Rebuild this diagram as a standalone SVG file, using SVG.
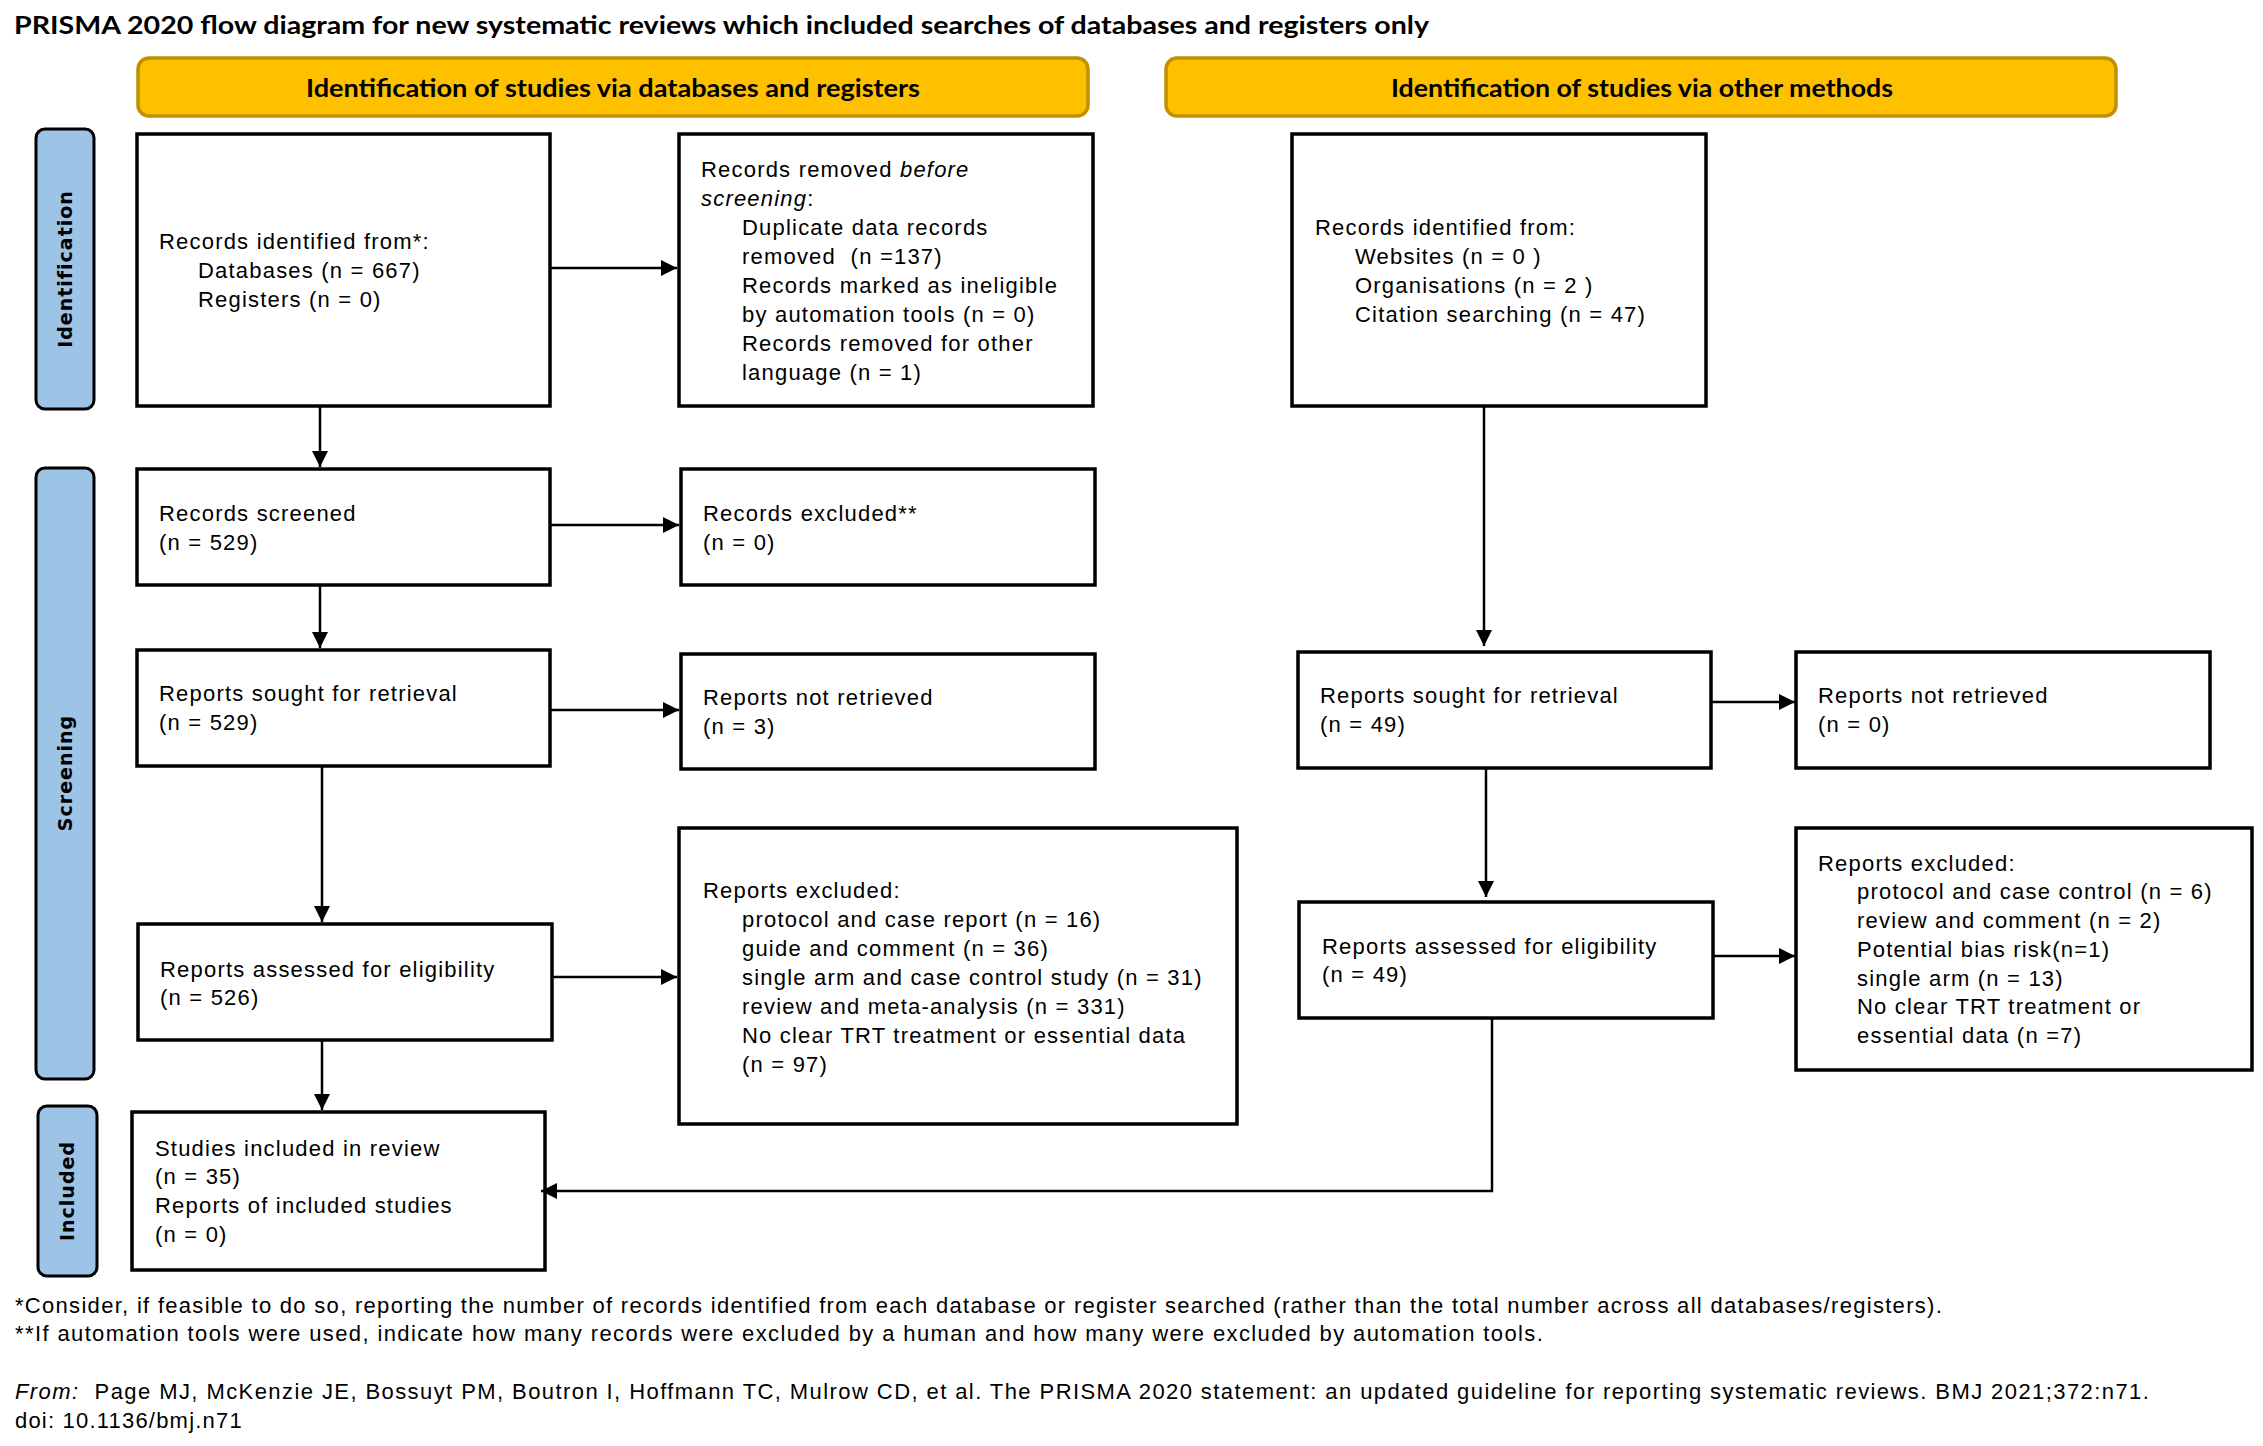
<svg xmlns="http://www.w3.org/2000/svg" width="2263" height="1446" viewBox="0 0 2263 1446">
<style>
.t{font-family:"Liberation Sans",Arial,sans-serif;font-size:22px;letter-spacing:1.2px;fill:#000}
.box{fill:#fff;stroke:#000;stroke-width:3.5}
.hdr{fill:#FFC000;stroke:#BF9000;stroke-width:3.5}
.hdrt{font-family:Lato,"Liberation Sans",sans-serif;font-weight:bold;font-size:24px;fill:#000;text-anchor:middle}
.side{fill:#9DC3E6;stroke:#000;stroke-width:3}
.sidet{font-family:"DejaVu Sans",Verdana,sans-serif;font-weight:bold;font-size:19px;letter-spacing:1px;fill:#000;text-anchor:middle}
.ttl{font-family:Lato,"Liberation Sans",sans-serif;font-weight:bold;font-size:24px;fill:#000}
.c{fill:none;stroke:#000;stroke-width:2.5}
.i{font-style:italic}
</style>
<defs>
<marker id="ah" markerUnits="userSpaceOnUse" markerWidth="18" markerHeight="16" refX="16" refY="8" orient="auto">
<path d="M0,0 L16,8 L0,16 z" fill="#000"/>
</marker>
</defs>
<rect width="2263" height="1446" fill="#fff"/>
<text class="ttl" x="14" y="34" textLength="1415" lengthAdjust="spacingAndGlyphs">PRISMA 2020 flow diagram for new systematic reviews which included searches of databases and registers only</text>

<g id="hdr-db">
<rect class="hdr" x="138" y="58" width="950" height="58" rx="11"/>
<text class="hdrt" x="613" y="97" textLength="614" lengthAdjust="spacingAndGlyphs">Identification of studies via databases and registers</text>
</g>
<g id="hdr-other">
<rect class="hdr" x="1166" y="58" width="950" height="58" rx="11"/>
<text class="hdrt" x="1642" y="97" textLength="502" lengthAdjust="spacingAndGlyphs">Identification of studies via other methods</text>
</g>

<g id="side-identification">
<rect class="side" x="36" y="129" width="58" height="280" rx="9"/>
<text class="sidet" transform="translate(72,269) rotate(-90)">Identification</text>
</g>
<g id="side-screening">
<rect class="side" x="36" y="468" width="58" height="611" rx="9"/>
<text class="sidet" transform="translate(72,773) rotate(-90)">Screening</text>
</g>
<g id="side-included">
<rect class="side" x="38" y="1106" width="59" height="170" rx="9"/>
<text class="sidet" transform="translate(74,1191) rotate(-90)">Included</text>
</g>

<g id="n-records-identified">
<rect class="box" x="137" y="134" width="413" height="272"/>
<text class="t" x="159" y="249">Records identified from*:</text>
<text class="t" x="198" y="278">Databases (n = 667)</text>
<text class="t" x="198" y="307">Registers (n = 0)</text>
</g>
<g id="n-records-removed">
<rect class="box" x="679" y="134" width="414" height="272"/>
<text class="t" x="701" y="177">Records removed <tspan class="i">before</tspan></text>
<text class="t" x="701" y="206"><tspan class="i">screening</tspan>:</text>
<text class="t" x="742" y="235">Duplicate data records</text>
<text class="t" x="742" y="264">removed&#160; (n =137)</text>
<text class="t" x="742" y="293">Records marked as ineligible</text>
<text class="t" x="742" y="322">by automation tools (n = 0)</text>
<text class="t" x="742" y="351">Records removed for other</text>
<text class="t" x="742" y="380">language (n = 1)</text>
</g>
<g id="n-records-identified-other">
<rect class="box" x="1292" y="134" width="414" height="272"/>
<text class="t" x="1315" y="235">Records identified from:</text>
<text class="t" x="1355" y="264">Websites (n = 0 )</text>
<text class="t" x="1355" y="293">Organisations (n = 2 )</text>
<text class="t" x="1355" y="322">Citation searching (n = 47)</text>
</g>
<g id="n-records-screened">
<rect class="box" x="137" y="469" width="413" height="116"/>
<text class="t" x="159" y="521">Records screened</text>
<text class="t" x="159" y="550">(n = 529)</text>
</g>
<g id="n-records-excluded">
<rect class="box" x="681" y="469" width="414" height="116"/>
<text class="t" x="703" y="521">Records excluded**</text>
<text class="t" x="703" y="550">(n = 0)</text>
</g>
<g id="n-reports-sought">
<rect class="box" x="137" y="650" width="413" height="116"/>
<text class="t" x="159" y="701">Reports sought for retrieval</text>
<text class="t" x="159" y="730">(n = 529)</text>
</g>
<g id="n-reports-not-retrieved">
<rect class="box" x="681" y="654" width="414" height="115"/>
<text class="t" x="703" y="705">Reports not retrieved</text>
<text class="t" x="703" y="734">(n = 3)</text>
</g>
<g id="n-reports-sought-other">
<rect class="box" x="1298" y="652" width="413" height="116"/>
<text class="t" x="1320" y="703">Reports sought for retrieval</text>
<text class="t" x="1320" y="732">(n = 49)</text>
</g>
<g id="n-reports-not-retrieved-other">
<rect class="box" x="1796" y="652" width="414" height="116"/>
<text class="t" x="1818" y="703">Reports not retrieved</text>
<text class="t" x="1818" y="732">(n = 0)</text>
</g>
<g id="n-reports-assessed">
<rect class="box" x="138" y="924" width="414" height="116"/>
<text class="t" x="160" y="977">Reports assessed for eligibility</text>
<text class="t" x="160" y="1005">(n = 526)</text>
</g>
<g id="n-reports-excluded">
<rect class="box" x="679" y="828" width="558" height="296"/>
<text class="t" x="703" y="898">Reports excluded:</text>
<text class="t" x="742" y="927">protocol and case report (n = 16)</text>
<text class="t" x="742" y="956">guide and comment (n = 36)</text>
<text class="t" x="742" y="985">single arm and case control study (n = 31)</text>
<text class="t" x="742" y="1014">review and meta-analysis (n = 331)</text>
<text class="t" x="742" y="1043">No clear TRT treatment or essential data</text>
<text class="t" x="742" y="1072">(n = 97)</text>
</g>
<g id="n-reports-assessed-other">
<rect class="box" x="1299" y="902" width="414" height="116"/>
<text class="t" x="1322" y="954">Reports assessed for eligibility</text>
<text class="t" x="1322" y="982">(n = 49)</text>
</g>
<g id="n-reports-excluded-other">
<rect class="box" x="1796" y="828" width="456" height="242"/>
<text class="t" x="1818" y="871">Reports excluded:</text>
<text class="t" x="1857" y="899">protocol and case control (n = 6)</text>
<text class="t" x="1857" y="928">review and comment (n = 2)</text>
<text class="t" x="1857" y="957">Potential bias risk(n=1)</text>
<text class="t" x="1857" y="986">single arm (n = 13)</text>
<text class="t" x="1857" y="1014">No clear TRT treatment or</text>
<text class="t" x="1857" y="1043">essential data (n =7)</text>
</g>
<g id="n-studies-included">
<rect class="box" x="132" y="1112" width="413" height="158"/>
<text class="t" x="155" y="1156">Studies included in review</text>
<text class="t" x="155" y="1184">(n = 35)</text>
<text class="t" x="155" y="1213">Reports of included studies</text>
<text class="t" x="155" y="1242">(n = 0)</text>
</g>

<g id="connectors">
<line class="c" x1="550" y1="268" x2="677" y2="268" marker-end="url(#ah)"/>
<line class="c" x1="320" y1="406" x2="320" y2="467" marker-end="url(#ah)"/>
<line class="c" x1="550" y1="525" x2="679" y2="525" marker-end="url(#ah)"/>
<line class="c" x1="320" y1="585" x2="320" y2="648" marker-end="url(#ah)"/>
<line class="c" x1="550" y1="710" x2="679" y2="710" marker-end="url(#ah)"/>
<line class="c" x1="322" y1="766" x2="322" y2="922" marker-end="url(#ah)"/>
<line class="c" x1="552" y1="977" x2="677" y2="977" marker-end="url(#ah)"/>
<line class="c" x1="322" y1="1040" x2="322" y2="1110" marker-end="url(#ah)"/>
<line class="c" x1="1484" y1="406" x2="1484" y2="646" marker-end="url(#ah)"/>
<line class="c" x1="1711" y1="702" x2="1795" y2="702" marker-end="url(#ah)"/>
<line class="c" x1="1486" y1="768" x2="1486" y2="897" marker-end="url(#ah)"/>
<line class="c" x1="1713" y1="956" x2="1795" y2="956" marker-end="url(#ah)"/>
<polyline class="c" points="1492,1018 1492,1191 541,1191" marker-end="url(#ah)"/>
</g>

<g id="footnotes">
<text class="t" x="15" y="1313" textLength="1928">*Consider, if feasible to do so, reporting the number of records identified from each database or register searched (rather than the total number across all databases/registers).</text>
<text class="t" x="15" y="1341" textLength="1529">**If automation tools were used, indicate how many records were excluded by a human and how many were excluded by automation tools.</text>
<text class="t" x="15" y="1399" textLength="2135"><tspan class="i">From:</tspan>&#160; Page MJ, McKenzie JE, Bossuyt PM, Boutron I, Hoffmann TC, Mulrow CD, et al. The PRISMA 2020 statement: an updated guideline for reporting systematic reviews. BMJ 2021;372:n71.</text>
<text class="t" x="15" y="1428">doi: 10.1136/bmj.n71</text>
</g>
</svg>
